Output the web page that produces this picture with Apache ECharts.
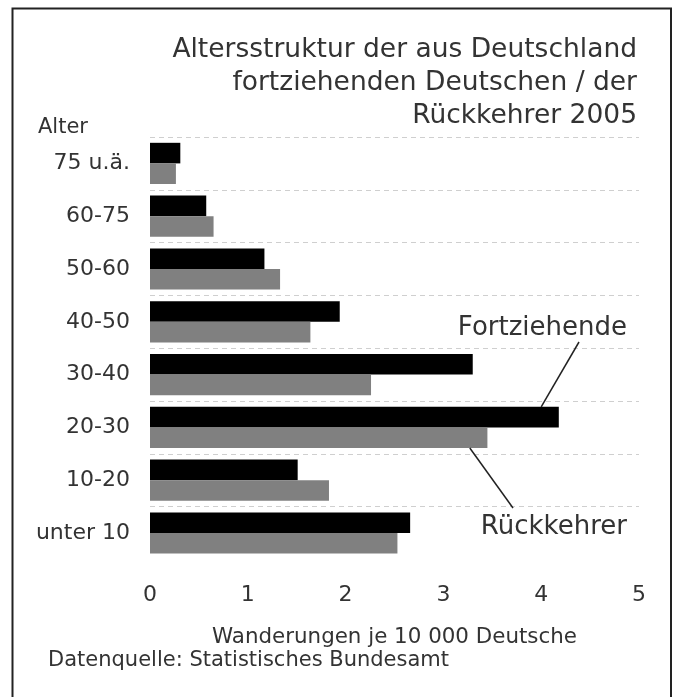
<!DOCTYPE html>
<html>
<head>
<meta charset="utf-8">
<script src="https://cdn.jsdelivr.net/npm/echarts@6/dist/echarts.min.js"></script>
<style>
html,body{margin:0;padding:0;background:#fff;}
#chart{width:675px;height:697px;}
</style>
</head>
<body>
<div id="chart"></div>
<script>
// Data
var categories = ['75 u.ä.', '60-75', '50-60', '40-50', '30-40', '20-30', '10-20', 'unter 10'];
var fortziehende = [0.31, 0.575, 1.17, 1.94, 3.30, 4.18, 1.51, 2.66];
var rueckkehrer = [0.265, 0.65, 1.33, 1.64, 2.26, 3.45, 1.83, 2.53];
var xTicks = [0, 1, 2, 3, 4, 5];
var titleLines = ['Altersstruktur der aus Deutschland', 'fortziehenden Deutschen / der', 'Rückkehrer 2005'];
var seriesNames = ['Fortziehende', 'Rückkehrer'];
var xAxisName = 'Wanderungen je 10 000 Deutsche';
var yAxisName = 'Alter';
var sourceText = 'Datenquelle: Statistisches Bundesamt';

var FONT = 'DejaVu Sans';
var TXT = '#333';
var chart = echarts.init(document.getElementById('chart'), null, {renderer: 'canvas'});

var splitColors = categories.map(function(){ return '#cfcfcf'; });
splitColors.push('rgba(0,0,0,0)');

var option = {
  backgroundColor: '#fff',
  animation: false,
  grid: {left: 150, right: 36, top: 137, bottom: 137.6},
  xAxis: {
    type: 'value', min: xTicks[0], max: xTicks[xTicks.length - 1], interval: 1,
    axisLine: {show: false}, axisTick: {show: false},
    splitLine: {show: false},
    axisLabel: {fontFamily: FONT, fontSize: 22, color: TXT, margin: 25},
    name: xAxisName, nameLocation: 'middle', nameGap: 68,
    nameTextStyle: {fontFamily: FONT, fontSize: 21.4, color: TXT}
  },
  yAxis: {
    type: 'category', data: categories, inverse: true,
    axisLine: {show: false}, axisTick: {show: false},
    axisLabel: {fontFamily: FONT, fontSize: 22, color: TXT, margin: 20},
    splitLine: {show: true, lineStyle: {type: [5, 4], color: splitColors, width: 1}}
  },
  series: [
    {name: seriesNames[0], type: 'bar', data: fortziehende, barGap: '0%', barCategoryGap: '22%',
     itemStyle: {color: '#000'}},
    {name: seriesNames[1], type: 'bar', data: rueckkehrer, barGap: '0%', barCategoryGap: '22%',
     itemStyle: {color: '#808080'}}
  ]
};
chart.setOption(option);

function px(x, catIdx){ return chart.convertToPixel({gridIndex: 0}, [x, catIdx]); }
// annotation anchors derived from the bars of the 20-30 group
var idx = categories.indexOf('20-30');
var band = px(0, 1)[1] - px(0, 0)[1];
var barW = band * 0.78 / 2;
var cy = px(0, idx)[1];
var fTop = [px(4.0, idx)[0], cy - barW];
var rBot = [px(3.27, idx)[0], cy + barW];

chart.setOption({
  graphic: [
    {type: 'rect', shape: {x: 12.5, y: 8.5, width: 658.5, height: 700}, style: {fill: 'none', stroke: '#222', lineWidth: 2}, z: 100},
    {type: 'text', x: 637, y: 34, style: {text: titleLines.join('\n'), font: '26.5px "' + FONT + '"', fill: TXT, align: 'right', verticalAlign: 'top', lineHeight: 33}},
    {type: 'text', left: 38, top: 117, style: {text: yAxisName, font: '21px "' + FONT + '"', fill: TXT}},
    {type: 'text', left: 48, top: 650, style: {text: sourceText, font: '21px "' + FONT + '"', fill: TXT}},
    {type: 'text', x: 627, y: 315, style: {text: seriesNames[0], font: '26px "' + FONT + '"', fill: TXT, align: 'right', verticalAlign: 'top'}},
    {type: 'text', x: 627, y: 514, style: {text: seriesNames[1], font: '26px "' + FONT + '"', fill: TXT, align: 'right', verticalAlign: 'top'}},
    {type: 'line', shape: {x1: 579, y1: 342, x2: fTop[0], y2: fTop[1]}, style: {stroke: '#222', lineWidth: 1.5}, z: 50},
    {type: 'line', shape: {x1: rBot[0], y1: rBot[1], x2: 513, y2: 508}, style: {stroke: '#222', lineWidth: 1.5}, z: 50}
  ]
});
</script>
</body>
</html>
